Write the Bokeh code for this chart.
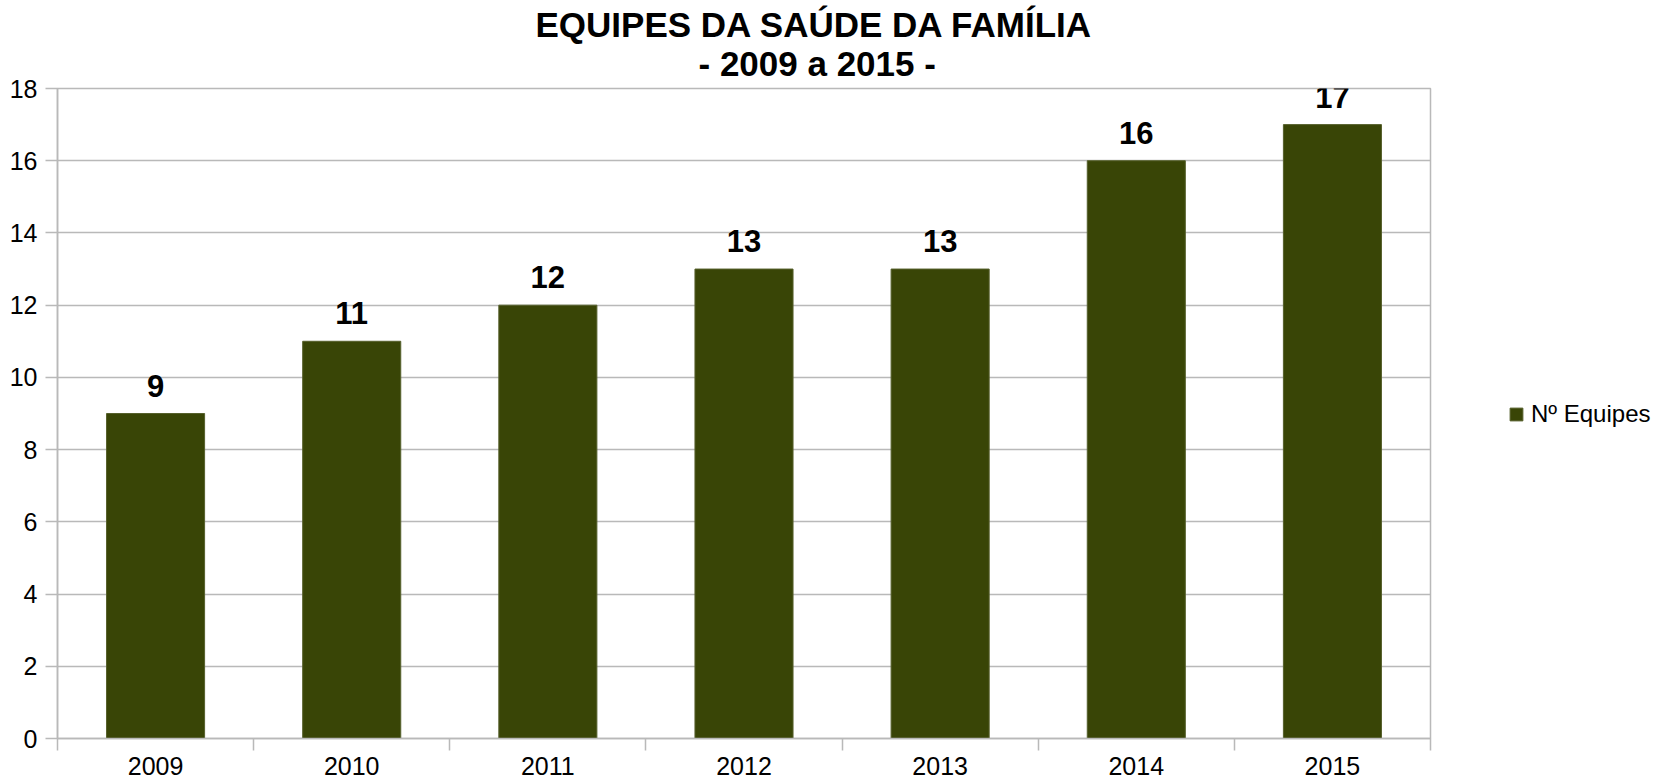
from bokeh.plotting import figure
from bokeh.models import ColumnDataSource, Range1d, FixedTicker, Legend, LegendItem, Title
from bokeh.core.properties import value
from bokeh.embed import file_html
from bokeh.resources import INLINE

# ---- data ----
years = ["2009", "2010", "2011", "2012", "2013", "2014", "2015"]
equipes = [9, 11, 12, 13, 13, 16, 17]
y_ticks = [0, 2, 4, 6, 8, 10, 12, 14, 16, 18]
series_name = "Nº Equipes"
title_line1 = "EQUIPES DA SAÚDE DA FAMÍLIA"
title_line2 = "- 2009 a 2015 -"

FONT = "Liberation Sans"
BAR = "#394506"
GRID = "#b9b9b9"

idx = list(range(len(years)))
src = ColumnDataSource(dict(x=idx, v=equipes, lab=[str(v) for v in equipes]))

p = figure(frame_width=1373, frame_height=650,
           min_border_left=57, min_border_right=223,
           min_border_top=88, min_border_bottom=45,
           x_range=Range1d(-0.5, len(years) - 0.5),
           y_range=Range1d(y_ticks[0], y_ticks[-1]),
           title=None,
           output_backend="svg", toolbar_location=None)

p.background_fill_color = "white"
p.border_fill_color = "white"
p.outline_line_color = GRID
p.outline_line_width = 1.5

r = p.vbar(x="x", top="v", width=0.5, source=src,
           fill_color=BAR, line_color="#56602c", line_width=1)

p.text(x="x", y="v", text="lab", source=src,
       text_font=value(FONT), text_font_style="bold", text_font_size="31px",
       text_align="center", text_baseline="alphabetic", y_offset=-28,
       text_color="#000000")

# two-line title (line 2 nearest the plot), positioned from the frame's left edge
for txt, so, off in ((title_line2, 11, 641), (title_line1, -14, 478)):
    t = Title(text=txt, align="left", text_font=FONT, text_font_style="bold",
              text_font_size="35px", text_color="#000000", standoff=so,
              offset=off)
    p.add_layout(t, "above")

# x axis: labels at centres, tick marks at category boundaries
xa = p.xaxis[0]
xa.ticker = FixedTicker(ticks=idx, minor_ticks=[i - 0.5 for i in range(len(years) + 1)])
xa.major_label_overrides = {i: y for i, y in zip(idx, years)}
xa.major_tick_line_color = None
xa.major_tick_out = 12
xa.major_tick_in = 0
xa.minor_tick_out = 12
xa.minor_tick_in = 0
xa.minor_tick_line_color = GRID
xa.minor_tick_line_width = 1.5
xa.axis_line_color = GRID
xa.axis_line_width = 1.5
xa.major_label_text_font = FONT
xa.major_label_text_font_size = "25px"
xa.major_label_text_color = "#000000"
xa.major_label_standoff = 6

ya = p.yaxis[0]
ya.ticker = FixedTicker(ticks=y_ticks)
ya.major_tick_out = 12
ya.major_tick_in = 0
ya.minor_tick_line_color = None
ya.major_tick_line_color = GRID
ya.major_tick_line_width = 1.5
ya.axis_line_color = GRID
ya.axis_line_width = 1.5
ya.major_label_text_font = FONT
ya.major_label_text_font_size = "25px"
ya.major_label_text_color = "#000000"
ya.major_label_standoff = 8

p.xgrid.visible = False
p.ygrid.grid_line_color = GRID
p.ygrid.grid_line_width = 1.5
p.ygrid.ticker = FixedTicker(ticks=y_ticks)

legend = Legend(items=[LegendItem(label=series_name, renderers=[r])],
                location=(78, 310), orientation="vertical",
                padding=0, margin=0, border_line_color=None,
                background_fill_alpha=0,
                glyph_width=16, glyph_height=16, label_standoff=7,
                label_text_font=FONT, label_text_font_size="24px",
                label_text_color="#000000")
p.add_layout(legend, "right")

open("out.html", "w").write(file_html(p, INLINE))
